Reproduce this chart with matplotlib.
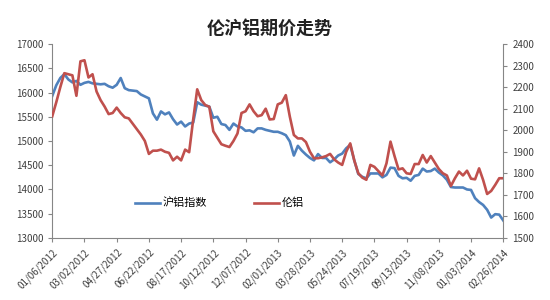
import numpy as np
import matplotlib.pyplot as plt

plt.rcParams['font.family'] = ['Noto Sans CJK SC', 'DejaVu Sans']

tick_labels = ['01/06/2012', '03/02/2012', '04/27/2012', '06/22/2012', '08/17/2012',
               '10/12/2012', '12/07/2012', '02/01/2013', '03/28/2013', '05/24/2013',
               '07/19/2013', '09/13/2013', '11/08/2013', '01/03/2014', '02/26/2014']

# 沪铝指数 (left axis), weekly
shfe = [15930, 16150, 16300, 16380, 16270, 16210, 16240, 16160, 16200, 16220,
        16190, 16180, 16170, 16180, 16130, 16100, 16160, 16300, 16090, 16050,
        16040, 16030, 15960, 15920, 15880, 15570, 15440, 15610, 15550, 15590,
        15450, 15340, 15400, 15300, 15360, 15380, 15800, 15750, 15730, 15710,
        15480, 15500, 15350, 15330, 15230, 15360, 15300, 15280, 15210, 15220,
        15180, 15260, 15260, 15230, 15210, 15190, 15190, 15160, 15120, 14990,
        14700, 14900, 14800, 14720, 14650, 14600, 14730, 14650, 14650, 14560,
        14620, 14700, 14740, 14850, 14920, 14600, 14320, 14260, 14230, 14330,
        14330, 14330, 14250, 14300, 14450, 14440, 14280, 14230, 14240, 14180,
        14280, 14300, 14430, 14370, 14380, 14430, 14350, 14290, 14200, 14050,
        14040, 14040, 14040, 14000, 13990, 13820, 13740, 13680, 13580, 13420,
        13490, 13480, 13360]

# 伦铝 (right axis), weekly
lme = [2065, 2130, 2200, 2265, 2260, 2255, 2160, 2320, 2325, 2245,
       2260, 2180, 2140, 2110, 2075, 2080, 2105, 2080, 2060, 2055,
       2030, 2005, 1980, 1950, 1890, 1905, 1905, 1910, 1900, 1895,
       1860, 1877, 1860, 1910, 1898, 2050, 2190, 2140, 2117, 2109,
       1995, 1965, 1935, 1928, 1922, 1950, 1985, 2080, 2088, 2120,
       2088, 2065, 2070, 2100, 2050, 2052, 2120, 2128, 2163, 2063,
       1978, 1962, 1962, 1945, 1900, 1870, 1870, 1874, 1880, 1890,
       1865, 1850, 1839, 1900, 1939, 1860, 1800, 1780, 1770, 1839,
       1830, 1810, 1790, 1846, 1947, 1880, 1818, 1823, 1800, 1797,
       1843, 1843, 1885, 1850, 1880, 1850, 1820, 1800, 1790, 1741,
       1777, 1808, 1790, 1812, 1775, 1772, 1823, 1769, 1704, 1718,
       1746, 1777, 1777]

x = np.arange(len(shfe))
blue = '#4F81BD'
red = '#C0504D'
grey = '#868686'

fig = plt.figure(figsize=(5.5, 3), dpi=100)
ax = fig.add_axes([0.095, 0.207, 0.82, 0.646])
ax2 = ax.twinx()

l1, = ax.plot(x, shfe, color=blue, lw=1.9, label='沪铝指数')
l2, = ax2.plot(x, lme, color=red, lw=1.9, label='伦铝')

ax.set_xlim(0, len(x) - 1)
ax.set_ylim(13000, 17000)
ax2.set_ylim(1500, 2400)
ax.set_yticks(np.arange(13000, 17001, 500))
ax2.set_yticks(np.arange(1500, 2401, 100))
ax.set_xticks(np.arange(0, len(x), 8))
ax.set_xticklabels(tick_labels, rotation=45, ha='right', rotation_mode='anchor')

for a in (ax, ax2):
    a.spines['top'].set_visible(False)
    for s in ('left', 'right', 'bottom'):
        a.spines[s].set_color(grey)
        a.spines[s].set_linewidth(0.8)
    a.tick_params(labelsize=7, colors=grey, labelcolor='#404040',
                  length=3, width=0.8)
ax.spines['right'].set_visible(False)
ax2.spines['left'].set_visible(False)
ax2.spines['bottom'].set_visible(False)

ax.legend(handles=[l1, l2], loc='center', bbox_to_anchor=(0.37, 0.18),
          ncol=2, frameon=False, fontsize=8, handlelength=2.3,
          columnspacing=4.2, handletextpad=0.2)

fig.text(0.49, 0.905, '伦沪铝期价走势', ha='center', va='center',
         fontsize=13, fontweight='bold', color='#222222')

fig.savefig('out.png', dpi=100)
